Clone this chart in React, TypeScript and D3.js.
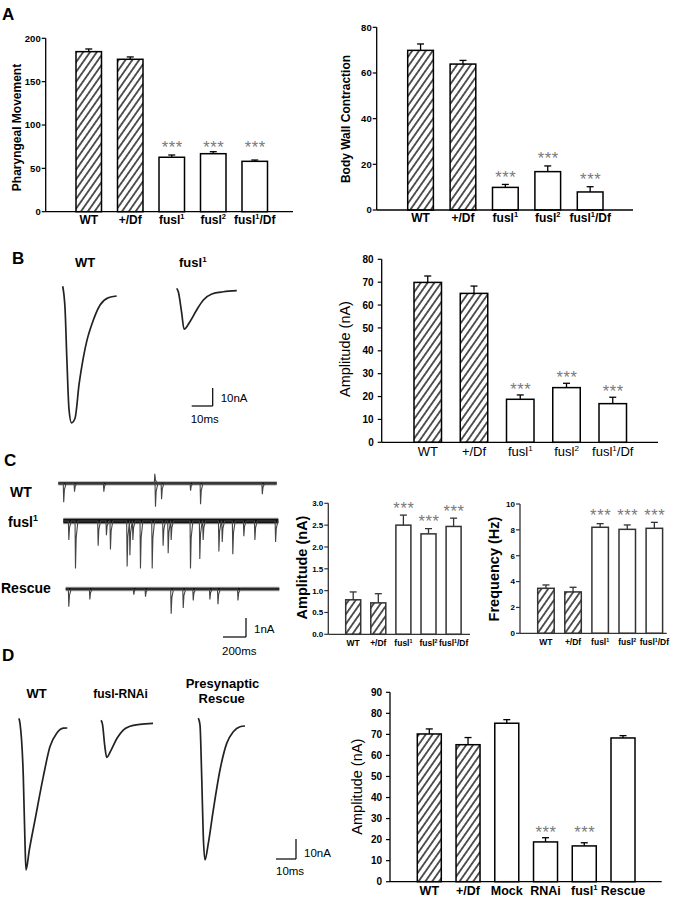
import React from "react";
import * as d3 from "d3";

const FONT = "Arial, 'Liberation Sans', Helvetica, sans-serif";

// ---------- bar data ----------
const genotypes = ["WT", "+/Df", "fusl^1", "fusl^2", "fusl^1/Df"];
const genoHatched = [true, true, false, false, false];
const genoSignif = [false, false, true, true, true];

const pharyngealMean = [184.6, 175.8, 62.8, 66.9, 58.1];
const pharyngealSem = [3.1, 2.7, 2.6, 2.3, 1.5];
const pharyngealTicks = [0, 50, 100, 150, 200];

const bodyWallMean = [69.9, 63.9, 9.9, 16.8, 7.9];
const bodyWallSem = [2.8, 1.6, 1.3, 2.5, 2.3];
const bodyWallTicks = [0, 20, 40, 60, 80];

const evokedMean = [69.9, 65.1, 18.8, 23.9, 16.9];
const evokedSem = [2.8, 3.2, 1.9, 1.9, 2.8];
const evokedTicks = [0, 10, 20, 30, 40, 50, 60, 70, 80];

const miniAmpMean = [0.79, 0.72, 2.5, 2.3, 2.47];
const miniAmpSem = [0.18, 0.21, 0.23, 0.12, 0.19];
const miniAmpTicks = [0, 0.5, 1.0, 1.5, 2.0, 2.5, 3.0];

const miniFreqMean = [3.48, 3.2, 8.2, 8.04, 8.12];
const miniFreqSem = [0.26, 0.36, 0.28, 0.34, 0.46];
const miniFreqTicks = [0, 2, 4, 6, 8, 10];

const rescueCats = ["WT", "+/Df", "Mock", "RNAi", "fusl^1", "Rescue"];
const rescueHatched = [true, true, false, false, false, false];
const rescueSignif = [false, false, false, true, true, false];
const rescueMean = [70.2, 65.1, 75.3, 18.9, 17.0, 68.3];
const rescueSem = [2.4, 3.4, 1.7, 2.0, 1.5, 1.1];
const rescueTicks = [0, 10, 20, 30, 40, 50, 60, 70, 80, 90];

// ---------- evoked traces: [ms, nA] ----------
const traceB_WT = [[0, 5.4], [0.6, 0.6], [1.1, -6.7], [2.0, -35.6], [3.0, -63], [4.2, -70.5], [5.9, -67.8], [7.8, -49], [9.8, -34.4], [11.6, -24.4], [13.8, -16], [17.8, -5], [21.7, -1], [25.7, 0]];
const traceB_fusl = [[0, 1.3], [0.76, -0.6], [2.4, -12.6], [3.5, -21.4], [6.3, -17.2], [9.5, -10.7], [12.7, -5.2], [16.7, -1.8], [22.2, -0.6], [28.6, 0]];
const traceD_WT = [[0, 4.8], [0.5, 2.3], [2.15, -24.3], [3.0, -57.5], [3.5, -71], [5.15, -61], [8, -46], [12.15, -24.3], [15.5, -9.3], [18.85, -2.6], [22.15, -0.1], [24.15, 0]];
const traceD_RNAi = [[0, 1.5], [0.75, -0.5], [1.85, -11], [2.85, -17], [5, -13.5], [8, -7.5], [11, -3.5], [14.5, -1.5], [19.5, -0.5], [26, 0]];
const traceD_Rescue = [[0, 3.9], [0.85, 0.5], [1.7, -25.3], [2.5, -55.3], [3.35, -67], [5, -58.7], [7.5, -42], [10.85, -22], [14.2, -8.7], [17.5, -2.9], [20.85, -0.35], [23.35, 0]];

// ---------- minis: events [ms, nA] ----------
const miniWT = [[43, 1.0], [137, 0.44], [392, 0.44], [835, -0.5], [841, 1.23], [894, 0.84], [1146, 0.39], [1233, 1.1], [1770, 0.58]];
const miniFusl = [[44, 1.0], [102, 2.5], [299, 1.3], [371, 0.75], [406, 1.5], [551, 2.4], [575, 1.8], [601, 1.0], [667, 2.5], [769, 2.5], [864, 1.3], [908, 1.7], [934, 1.0], [1102, 2.5], [1183, 2.0], [1212, 1.0], [1349, 1.6], [1378, 1.1], [1470, 1.75], [1566, 0.8], [1662, 1.0], [1842, 1.1]];
const miniRescue = [[23, 0.93], [206, 0.55], [588, 0.3], [690, 0.4], [913, 1.3], [1018, 1.0], [1105, 0.6], [1250, 0.55], [1320, 0.8], [1494, 0.6]];
const miniDur = [1899, 1870, 1857];

type Spec = {
  id: string;
  cats: string[]; mean: number[]; sem: number[]; hatched: boolean[]; signif: boolean[];
  max: number; ticks: number[]; fmt: (v: number) => string;
  axisX: number; yTop: number; y0: number; xEnd: number;
  firstBar: number; step: number; bw: number;
  tickFs: number; tickGap: number; xLabFs: number; xLabY: number; xLabBold: boolean;
  yLabel: string; yLabX: number; yLabY: number; yLabFs: number; yLabBold: boolean;
  starGap: number; alignStars: boolean; color: string;
};

function Label({ s, x, y, fs, bold, anchor = "middle" }: { s: string; x: number; y: number; fs: number; bold: boolean; anchor?: string }) {
  const m = s.match(/^([^\^]*)\^(\d)(.*)$/);
  return (
    <text x={x} y={y} fontSize={fs} fontWeight={bold ? "bold" : "normal"} textAnchor={anchor as any} fontFamily={FONT} fill="#000">
      {m ? (
        <>
          <tspan>{m[1]}</tspan>
          <tspan fontSize={fs * 0.62} dy={-fs * 0.4}>{m[2]}</tspan>
          {m[3] ? <tspan fontSize={fs} dy={fs * 0.4}>{m[3]}</tspan> : null}
        </>
      ) : s}
    </text>
  );
}

function BarChart({ p }: { p: Spec }) {
  const y = d3.scaleLinear().domain([0, p.max]).range([p.y0, p.yTop]);
  const pad = (p.step - p.bw) / p.step;
  const r0 = p.firstBar - (p.step - p.bw) / 2;
  const x = d3.scaleBand().domain(p.cats).range([r0, r0 + p.cats.length * p.step]).paddingInner(pad).paddingOuter(pad / 2);
  const errTops = p.cats.map((_, i) => y(p.mean[i] + p.sem[i]));
  const starred = p.cats.map((_, i) => i).filter((i) => p.signif[i]);
  const minTop = d3.min(starred.map((i) => errTops[i])) ?? 0;
  const starFs = 16.5;
  return (
    <g>
      {p.cats.map((c, i) => {
        const bx = x(c)!;
        const cx = bx + x.bandwidth() / 2;
        const top = y(p.mean[i]);
        const et = errTops[i];
        return (
          <g key={c + i}>
            <rect x={bx} y={top} width={x.bandwidth()} height={p.y0 - top} fill={p.hatched[i] ? "url(#hatch)" : "#fff"} stroke={p.color} strokeWidth={1.5} />
            <line x1={cx} x2={cx} y1={top} y2={et} stroke={p.color} strokeWidth={1.3} />
            <line x1={cx - 3.5} x2={cx + 3.5} y1={et} y2={et} stroke={p.color} strokeWidth={1.3} />
            {p.signif[i] ? (
              <text x={cx + 0.5} y={(p.alignStars ? minTop : et) - p.starGap + starFs * 0.58} fontSize={starFs} letterSpacing={0.6} textAnchor="middle" fill="#7a7a7a" fontFamily={FONT}>***</text>
            ) : null}
            <Label s={c} x={cx} y={p.xLabY} fs={p.xLabFs} bold={p.xLabBold} />
          </g>
        );
      })}
      <line x1={p.axisX} x2={p.axisX} y1={p.y0} y2={p.yTop} stroke={p.color} strokeWidth={1.3} />
      <line x1={p.axisX} x2={p.xEnd} y1={p.y0} y2={p.y0} stroke={p.color} strokeWidth={1.3} />
      {p.ticks.map((t) => (
        <g key={t}>
          <line x1={p.axisX - 4} x2={p.axisX} y1={y(t)} y2={y(t)} stroke={p.color} strokeWidth={1.2} />
          <text x={p.axisX - p.tickGap} y={y(t) + p.tickFs * 0.36} fontSize={p.tickFs} fontWeight="bold" textAnchor="end" fontFamily={FONT}>{p.fmt(t)}</text>
        </g>
      ))}
      <text transform={`translate(${p.yLabX},${p.yLabY}) rotate(-90)`} fontSize={p.yLabFs} fontWeight={p.yLabBold ? "bold" : "normal"} textAnchor="middle" fontFamily={FONT}>{p.yLabel}</text>
    </g>
  );
}

function Evoked({ data, x0, base, pxMs, pxNa }: { data: number[][]; x0: number; base: number; pxMs: number; pxNa: number }) {
  const x = d3.scaleLinear().domain([0, 10]).range([x0, x0 + 10 * pxMs]);
  const y = d3.scaleLinear().domain([0, -10]).range([base, base + 10 * pxNa]);
  const line = d3.line<number[]>().x((d) => x(d[0])).y((d) => y(d[1])).curve(d3.curveMonotoneX);
  return <path d={line(data) || ""} fill="none" stroke="#222" strokeWidth={1.7} strokeLinejoin="round" />;
}

function ScaleBar({ xr, yb, w, h, tx, ty, ny, ms, na }: { xr: number; yb: number; w: number; h: number; tx: number; ty: number; ny: number; ms: string; na: string }) {
  return (
    <g fontFamily={FONT} fontSize={11.5}>
      <line x1={xr} x2={xr} y1={yb - h} y2={yb} stroke="#000" strokeWidth={1.2} />
      <line x1={xr - w} x2={xr} y1={yb} y2={yb} stroke="#000" strokeWidth={1.2} />
      <text x={xr + 8} y={ny}>{na}</text>
      <text x={tx} y={ty}>{ms}</text>
    </g>
  );
}

function Minis({ events, dur, x0, base, band }: { events: number[][]; dur: number; x0: number; base: number; band: number }) {
  const x = d3.scaleLinear().domain([0, 200]).range([x0, x0 + 23]);
  const y = d3.scaleLinear().domain([0, -1]).range([base, base + 19]);
  const pts: number[][] = [[0, 0]];
  events.forEach(([t, a]) => {
    pts.push([t, 0], [t + 4, -a], [t + 10, -a * 0.35], [t + 25, 0]);
  });
  pts.push([dur, 0]);
  const line = d3.line<number[]>().x((d) => x(d[0])).y((d) => y(d[1]));
  return (
    <g>
      <line x1={x(0)} x2={x(dur)} y1={base} y2={base} stroke="#666" strokeWidth={band + 2} opacity={0.55} />
      <line x1={x(0)} x2={x(dur)} y1={base} y2={base} stroke="#111" strokeWidth={band} />
      <path d={line(pts) || ""} fill="none" stroke="#444" strokeWidth={1.1} />
    </g>
  );
}

const f0 = (v: number) => d3.format("d")(v);
const f1 = (v: number) => d3.format(".1f")(v);

export default function App() {
  const specs: Spec[] = [
    { id: "a1", cats: genotypes, mean: pharyngealMean, sem: pharyngealSem, hatched: genoHatched, signif: genoSignif, max: 200, ticks: pharyngealTicks, fmt: f0,
      axisX: 45.7, yTop: 38.3, y0: 211.7, xEnd: 293, firstBar: 76, step: 41.5, bw: 25.5,
      tickFs: 9.5, tickGap: 5, xLabFs: 12, xLabY: 224, xLabBold: true,
      yLabel: "Pharyngeal Movement", yLabX: 21, yLabY: 127.5, yLabFs: 12, yLabBold: true, starGap: 8, alignStars: true, color: "#000" },
    { id: "a2", cats: genotypes, mean: bodyWallMean, sem: bodyWallSem, hatched: genoHatched, signif: genoSignif, max: 80, ticks: bodyWallTicks, fmt: f0,
      axisX: 376.7, yTop: 27.3, y0: 210, xEnd: 633, firstBar: 407.7, step: 42.4, bw: 25.7,
      tickFs: 9.5, tickGap: 5, xLabFs: 12, xLabY: 221.7, xLabBold: true,
      yLabel: "Body Wall Contraction", yLabX: 349.5, yLabY: 119, yLabFs: 12, yLabBold: true, starGap: 11, alignStars: false, color: "#000" },
    { id: "b", cats: genotypes, mean: evokedMean, sem: evokedSem, hatched: genoHatched, signif: genoSignif, max: 80, ticks: evokedTicks, fmt: f0,
      axisX: 381.7, yTop: 259.3, y0: 442.3, xEnd: 658, firstBar: 414, step: 46.25, bw: 27.5,
      tickFs: 10, tickGap: 8, xLabFs: 13, xLabY: 456, xLabBold: false,
      yLabel: "Amplitude (nA)", yLabX: 350, yLabY: 349, yLabFs: 14.5, yLabBold: false, starGap: 10, alignStars: false, color: "#000" },
    { id: "c1", cats: genotypes, mean: miniAmpMean, sem: miniAmpSem, hatched: genoHatched, signif: genoSignif, max: 3, ticks: miniAmpTicks, fmt: f1,
      axisX: 328.3, yTop: 503.3, y0: 634.3, xEnd: 470, firstBar: 345.7, step: 25.1, bw: 15,
      tickFs: 8, tickGap: 5, xLabFs: 8.5, xLabY: 646, xLabBold: true,
      yLabel: "Amplitude (nA)", yLabX: 307, yLabY: 567.5, yLabFs: 14.5, yLabBold: true, starGap: 11, alignStars: false, color: "#333" },
    { id: "c2", cats: genotypes, mean: miniFreqMean, sem: miniFreqSem, hatched: genoHatched, signif: genoSignif, max: 10, ticks: miniFreqTicks, fmt: f0,
      axisX: 520, yTop: 504, y0: 633.3, xEnd: 666.7, firstBar: 537.7, step: 27.1, bw: 16.5,
      tickFs: 8, tickGap: 5, xLabFs: 8.5, xLabY: 645, xLabBold: true,
      yLabel: "Frequency (Hz)", yLabX: 499, yLabY: 569, yLabFs: 14.5, yLabBold: true, starGap: 10.5, alignStars: true, color: "#333" },
    { id: "d", cats: rescueCats, mean: rescueMean, sem: rescueSem, hatched: rescueHatched, signif: rescueSignif, max: 90, ticks: rescueTicks, fmt: f0,
      axisX: 390, yTop: 692.3, y0: 881.7, xEnd: 661.7, firstBar: 417.3, step: 38.74, bw: 24,
      tickFs: 10, tickGap: 8, xLabFs: 12.5, xLabY: 895, xLabBold: true,
      yLabel: "Amplitude (nA)", yLabX: 362, yLabY: 786.7, yLabFs: 14.5, yLabBold: false, starGap: 9.5, alignStars: true, color: "#000" },
  ];

  const bold = { fontFamily: FONT, fontWeight: "bold" as const };

  return (
    <svg width={689} height={900} style={{ position: "absolute", left: 0, top: 0, background: "#fff" }}>
      <defs>
        <pattern id="hatch" patternUnits="userSpaceOnUse" width={5.6} height={10} patternTransform="rotate(35)">
          <rect width={5.6} height={10} fill="#fff" />
          <line x1={2.8} x2={2.8} y1={0} y2={10} stroke="#000" strokeWidth={1.3} />
        </pattern>
      </defs>
      <rect width={689} height={900} fill="#fff" />

      {/* panel letters */}
      <text x={2} y={20} fontSize={17} {...bold}>A</text>
      <text x={12} y={263.5} fontSize={17} {...bold}>B</text>
      <text x={4} y={466} fontSize={17} {...bold}>C</text>
      <text x={2} y={661} fontSize={17} {...bold}>D</text>

      {specs.map((s) => <BarChart key={s.id} p={s} />)}

      {/* Panel B traces */}
      <text x={85} y={266.7} fontSize={13} textAnchor="middle" {...bold}>WT</text>
      <Label s="fusl^1" x={179} y={266.7} fs={13} bold anchor="start" />
      <Evoked data={traceB_WT} x0={62.7} base={296} pxMs={2.1} pxNa={1.8} />
      <Evoked data={traceB_fusl} x0={176.7} base={290.7} pxMs={2.1} pxNa={1.8} />
      <ScaleBar xr={212.7} yb={406} w={10 * 2.1} h={10 * 1.8} tx={190.7} ty={422.7} ny={401.7} ms="10ms" na="10nA" />

      {/* Panel C traces */}
      <text x={10} y={497} fontSize={14} {...bold}>WT</text>
      <Label s="fusl^1" x={8} y={526.7} fs={14} bold anchor="start" />
      <text x={1} y={592.7} fontSize={14} {...bold}>Rescue</text>
      <Minis events={miniWT} dur={miniDur[0]} x0={58.3} base={483.3} band={2.2} />
      <Minis events={miniFusl} dur={miniDur[1]} x0={63.3} base={521} band={4.5} />
      <Minis events={miniRescue} dur={miniDur[2]} x0={65.7} base={589} band={2.4} />
      <ScaleBar xr={246} yb={637} w={23} h={19} tx={222} ty={655} ny={633} ms="200ms" na="1nA" />

      {/* Panel D traces */}
      <text x={36.7} y={698.3} fontSize={13} textAnchor="middle" {...bold}>WT</text>
      <text x={120.5} y={698.3} fontSize={12} textAnchor="middle" {...bold}>fusl-RNAi</text>
      <text x={222.5} y={688.3} fontSize={13} textAnchor="middle" {...bold}>Presynaptic</text>
      <text x={221.7} y={703.3} fontSize={13} textAnchor="middle" {...bold}>Rescue</text>
      <Evoked data={traceD_WT} x0={19} base={728} pxMs={2} pxNa={2} />
      <Evoked data={traceD_RNAi} x0={101} base={723.3} pxMs={2} pxNa={2} />
      <Evoked data={traceD_Rescue} x0={198.3} base={726} pxMs={2} pxNa={2} />
      <ScaleBar xr={296} yb={859} w={20} h={20} tx={276} ty={875} ny={856.7} ms="10ms" na="10nA" />
    </svg>
  );
}
